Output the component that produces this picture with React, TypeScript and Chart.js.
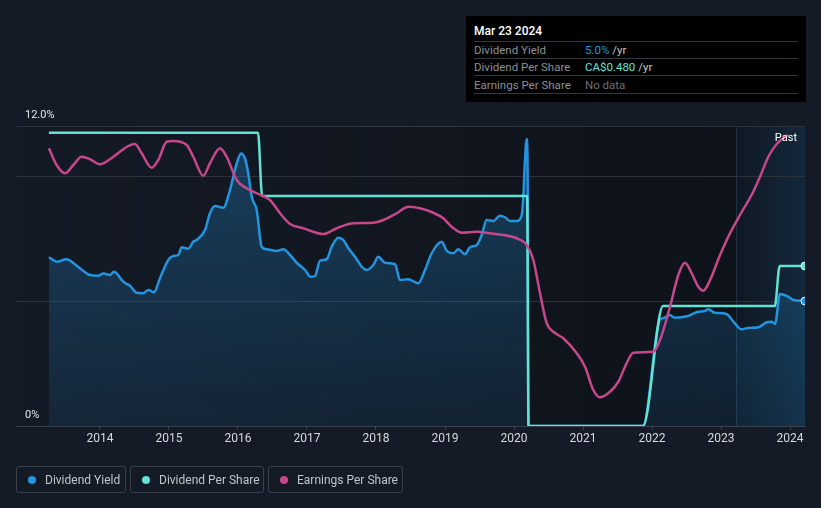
import React, { useEffect, useRef } from 'react';
import { Chart, registerables } from 'chart.js';

Chart.register(...registerables);

// ---------- data ----------
const xTickYears = [2014, 2015, 2016, 2017, 2018, 2019, 2020, 2021, 2022, 2023, 2024];
const yieldGridValues = [0, 5, 10, 12];
const yTopLabel = '12.0%';
const yBottomLabel = '0%';

const yieldYears = [
  2013.26, 2013.372, 2013.517, 2013.59, 2013.71, 2013.855, 2013.975, 2014.048, 2014.145, 2014.203,
  2014.338, 2014.435, 2014.532, 2014.628, 2014.7, 2014.783, 2014.87, 2014.99, 2015.062, 2015.135,
  2015.184, 2015.28, 2015.352, 2015.401, 2015.522, 2015.594, 2015.667, 2015.787, 2015.884, 2015.981,
  2016.043, 2016.101, 2016.149, 2016.199, 2016.271, 2016.343, 2016.416, 2016.561, 2016.657, 2016.754,
  2016.851, 2016.971, 2017.054, 2017.116, 2017.188, 2017.286, 2017.358, 2017.454, 2017.526, 2017.599,
  2017.696, 2017.793, 2017.865, 2017.961, 2018.033, 2018.13, 2018.275, 2018.348, 2018.468, 2018.613,
  2018.71, 2018.807, 2018.952, 2019.025, 2019.12, 2019.193, 2019.29, 2019.362, 2019.459, 2019.532,
  2019.604, 2019.7, 2019.797, 2019.87, 2019.942, 2020.039, 2020.112, 2020.135, 2020.159, 2020.184,
  2020.197, 2020.21, 2021.87, 2022.111, 2022.159, 2022.256, 2022.328, 2022.522, 2022.667, 2022.764,
  2022.812, 2022.909, 2023.077, 2023.199, 2023.294, 2023.391, 2023.541, 2023.662, 2023.734, 2023.783,
  2023.855, 2023.952, 2024.048, 2024.217,
];
const yieldValues = [
  6.75, 6.57, 6.67, 6.57, 6.31, 6.04, 6.01, 6.1, 6.04, 6.17,
  5.77, 5.61, 5.33, 5.31, 5.44, 5.35, 5.91, 6.64, 6.8, 6.84,
  7.15, 7.09, 7.37, 7.44, 7.84, 8.51, 8.8, 8.73, 9.44, 10.5,
  10.9, 10.7, 10.1, 9.17, 8.64, 7.17, 7.07, 7.0, 7.07, 6.84,
  6.53, 6.24, 5.97, 6.0, 6.61, 6.67, 7.17, 7.53, 7.44, 7.11,
  6.77, 6.37, 6.24, 6.44, 6.77, 6.53, 6.47, 5.84, 5.87, 5.71,
  6.24, 6.91, 7.37, 7.01, 6.91, 7.07, 6.87, 7.15, 7.24, 7.64,
  8.24, 8.2, 8.41, 8.35, 8.2, 8.2, 8.44, 9.17, 10.64, 11.48,
  10.24, 0, 0, 4.24, 4.31, 4.44, 4.33, 4.4, 4.57, 4.6,
  4.67, 4.53, 4.48, 4.11, 3.87, 3.92, 3.95, 4.15, 4.17, 4.08,
  5.28, 5.2, 5.04, 5.0,
];

const dpsYears = [2013.26, 2016.29, 2016.35, 2020.19, 2020.21, 2021.87, 2022.16, 2023.78, 2023.85, 2024.217];
const dpsValues = [0.88, 0.88, 0.69, 0.69, 0, 0, 0.36, 0.36, 0.48, 0.48];

const epsYears = [
  2013.26, 2013.372, 2013.493, 2013.613, 2013.735, 2013.855, 2014.0, 2014.145, 2014.29, 2014.41,
  2014.507, 2014.604, 2014.749, 2014.845, 2014.967, 2015.062, 2015.257, 2015.352, 2015.497, 2015.594,
  2015.739, 2015.836, 2015.981, 2016.125, 2016.271, 2016.464, 2016.609, 2016.754, 2016.946, 2017.236,
  2017.43, 2017.671, 2017.961, 2018.106, 2018.3, 2018.468, 2018.638, 2018.83, 2018.975, 2019.097,
  2019.242, 2019.459, 2019.652, 2019.845, 2020.039, 2020.184, 2020.28, 2020.377, 2020.474, 2020.57,
  2020.714, 2020.909, 2021.029, 2021.149, 2021.246, 2021.391, 2021.512, 2021.609, 2021.729, 2022.019,
  2022.116, 2022.261, 2022.381, 2022.478, 2022.575, 2022.671, 2022.743, 2022.841, 2022.986, 2023.13,
  2023.275, 2023.468, 2023.565, 2023.686, 2023.807, 2023.928, 2023.975,
];
const epsValues = [
  1.111, 1.044, 1.011, 1.044, 1.077, 1.067, 1.047, 1.067, 1.097, 1.12,
  1.128, 1.091, 1.033, 1.064, 1.137, 1.14, 1.124, 1.077, 1.001, 1.051,
  1.111, 1.077, 0.984, 0.951, 0.931, 0.904, 0.851, 0.808, 0.791, 0.768,
  0.791, 0.811, 0.813, 0.824, 0.851, 0.877, 0.871, 0.853, 0.831, 0.797,
  0.773, 0.777, 0.771, 0.764, 0.751, 0.724, 0.664, 0.531, 0.411, 0.377,
  0.351, 0.291, 0.237, 0.144, 0.115, 0.137, 0.177, 0.237, 0.293, 0.297,
  0.344, 0.477, 0.604, 0.653, 0.611, 0.557, 0.541, 0.584, 0.684, 0.771,
  0.844, 0.937, 0.997, 1.077, 1.128, 1.157, 1.164,
];

const X_MIN = 2012.783;
const X_MAX = 2024.217;
const PAST_START = 2023.217;

const BG = '#151b26';
const BLUE = '#2394df';
const TEAL = '#63e1d2';
const PINK = '#c6488b';
const FONT = "Roboto, 'Open Sans', sans-serif";

const toPoints = (xs: number[], ys: number[]) => xs.map((x, i) => ({ x, y: ys[i] }));
const lastOnly = (n: number, r: number) => Array.from({ length: n }, (_, i) => (i === n - 1 ? r : 0));

const decorPlugin = {
  id: 'decor',
  beforeDraw(chart: any) {
    const { ctx, chartArea: ca, scales } = chart;
    if (!ca) return;
    const px = scales.x.getPixelForValue(PAST_START);
    ctx.save();
    const g = ctx.createLinearGradient(ca.left, 0, px, 0);
    g.addColorStop(0, 'rgba(0,0,0,0)');
    g.addColorStop(1, 'rgba(0,0,0,0.3)');
    ctx.fillStyle = g;
    ctx.fillRect(ca.left, ca.top, px - ca.left, ca.bottom - ca.top);
    const g2 = ctx.createLinearGradient(px, 0, ca.right, 0);
    g2.addColorStop(0, '#0f1823');
    g2.addColorStop(1, '#13283b');
    ctx.fillStyle = g2;
    ctx.fillRect(px, ca.top, ca.right - px, ca.bottom - ca.top);
    ctx.strokeStyle = 'rgba(70,100,130,0.35)';
    ctx.lineWidth = 1;
    ctx.beginPath();
    ctx.moveTo(Math.round(px) + 0.5, ca.top);
    ctx.lineTo(Math.round(px) + 0.5, ca.bottom);
    ctx.stroke();
    ctx.restore();
  },
  afterDraw(chart: any) {
    const { ctx, chartArea: ca, scales } = chart;
    if (!ca) return;
    ctx.save();
    ctx.font = `11px ${FONT}`;
    ctx.fillStyle = '#e4e6e9';
    ctx.textBaseline = 'middle';
    ctx.textAlign = 'left';
    ctx.fillText(yTopLabel, ca.left + 9, scales.y.getPixelForValue(12) - 11);
    ctx.fillText(yBottomLabel, ca.left + 9, scales.y.getPixelForValue(0) - 11);
    ctx.textAlign = 'right';
    ctx.fillStyle = '#ffffff';
    ctx.fillText('Past', ca.right - 8, ca.top + 12);
    ctx.restore();
  },
};

export default function App() {
  const canvasRef = useRef<HTMLCanvasElement | null>(null);

  useEffect(() => {
    document.body.style.margin = '0';
    document.body.style.background = BG;
    const canvas = canvasRef.current;
    if (!canvas) return;
    const chart = new Chart(canvas, {
      type: 'line',
      data: {
        datasets: [
          {
            label: 'Earnings Per Share',
            data: toPoints(epsYears, epsValues),
            yAxisID: 'yEps',
            borderColor: PINK,
            borderWidth: 2.5,
            pointRadius: 0,
            cubicInterpolationMode: 'monotone',
            fill: false,
          },
          {
            label: 'Dividend Per Share',
            data: toPoints(dpsYears, dpsValues),
            yAxisID: 'yDps',
            borderColor: TEAL,
            borderWidth: 2.5,
            pointRadius: lastOnly(dpsYears.length, 4),
            pointBackgroundColor: TEAL,
            pointBorderColor: '#e8fffb',
            pointBorderWidth: 1,
            cubicInterpolationMode: 'monotone',
            fill: false,
          },
          {
            label: 'Dividend Yield',
            data: toPoints(yieldYears, yieldValues),
            yAxisID: 'y',
            borderColor: BLUE,
            borderWidth: 2.5,
            pointRadius: lastOnly(yieldYears.length, 4),
            pointBackgroundColor: BLUE,
            pointBorderColor: '#e8f4ff',
            pointBorderWidth: 1,
            cubicInterpolationMode: 'monotone',
            fill: 'origin',
            backgroundColor: (c: any) => {
              const ch = c.chart;
              const ca = ch.chartArea;
              if (!ca) return 'rgba(35,148,223,0.2)';
              const g = ch.ctx.createLinearGradient(0, ca.top, 0, ca.bottom);
              g.addColorStop(0, 'rgba(35,148,223,0.32)');
              g.addColorStop(1, 'rgba(35,148,223,0.10)');
              return g;
            },
          },
        ],
      },
      options: {
        animation: false,
        responsive: false,
        maintainAspectRatio: false,
        devicePixelRatio: 1,
        layout: { padding: { left: 16, right: 16, top: 126, bottom: 52 } },
        plugins: { legend: { display: false }, tooltip: { enabled: false } },
        elements: { line: { tension: 0.4 } },
        scales: {
          x: {
            type: 'linear',
            min: X_MIN,
            max: X_MAX,
            afterBuildTicks: (s: any) => {
              s.ticks = xTickYears.map((v) => ({ value: v }));
            },
            afterFit: (s: any) => {
              s.height = 30;
            },
            ticks: {
              color: '#d6d9dd',
              font: { size: 12, family: FONT },
              padding: 2,
              maxRotation: 0,
              autoSkip: false,
              callback: (v: any) => String(v),
            },
            grid: { display: true, drawOnChartArea: false, drawTicks: true, tickLength: 4, color: '#3b414b' },
            border: { display: true, color: '#3b414b' },
          },
          y: {
            position: 'left',
            min: 0,
            max: 12,
            afterBuildTicks: (s: any) => {
              s.ticks = yieldGridValues.map((v) => ({ value: v }));
            },
            afterFit: (s: any) => {
              s.width = 0;
            },
            ticks: { display: false },
            grid: {
              color: (c: any) => (c.tick && c.tick.value === 0 ? 'rgba(0,0,0,0)' : '#2d323b'),
              drawTicks: false,
              lineWidth: 1,
            },
            border: { display: false },
          },
          yDps: { display: false, min: 0, max: 0.9 },
          yEps: { display: false, min: 0, max: 1.2 },
        },
      },
      plugins: [decorPlugin],
    } as any);
    return () => chart.destroy();
  }, []);

  const rowLabel: React.CSSProperties = { color: '#8b9097', width: 111, flex: 'none' };
  const row: React.CSSProperties = {
    display: 'flex',
    alignItems: 'center',
    height: 17,
    boxSizing: 'border-box',
    borderBottom: '1px solid #34383e',
    fontSize: 11.5,
  };
  const legendItem: React.CSSProperties = {
    position: 'absolute',
    top: 466,
    height: 27,
    boxSizing: 'border-box',
    border: '1px solid #3a3f48',
    borderRadius: 3,
    display: 'flex',
    alignItems: 'center',
    color: '#c2c5ca',
    fontSize: 12,
    paddingLeft: 11,
  };
  const dot = (c: string): React.CSSProperties => ({
    width: 8,
    height: 8,
    borderRadius: '50%',
    background: c,
    marginRight: 9,
    flex: 'none',
  });

  return (
    <div
      style={{
        position: 'absolute',
        left: 0,
        top: 0,
        width: 821,
        height: 508,
        background: BG,
        fontFamily: FONT,
        overflow: 'hidden',
      }}
    >
      <canvas ref={canvasRef} width={821} height={508} style={{ position: 'absolute', left: 0, top: 0, width: 821, height: 508 }} />
      <div
        style={{
          position: 'absolute',
          left: 466,
          top: 16,
          width: 340,
          height: 86,
          background: '#000000',
          boxSizing: 'border-box',
          padding: '0 8px',
        }}
      >
        <div style={{ ...row, height: 26, color: '#ffffff', fontWeight: 500, fontSize: 12, paddingTop: 4 }}>Mar 23 2024</div>
        <div style={row}>
          <span style={rowLabel}>Dividend Yield</span>
          <span style={{ color: BLUE }}>5.0%</span>
          <span style={{ color: '#c3c6ca' }}>&nbsp;/yr</span>
        </div>
        <div style={row}>
          <span style={rowLabel}>Dividend Per Share</span>
          <span style={{ color: TEAL }}>CA$0.480</span>
          <span style={{ color: '#c3c6ca' }}>&nbsp;/yr</span>
        </div>
        <div style={{ ...row, height: 18 }}>
          <span style={rowLabel}>Earnings Per Share</span>
          <span style={{ color: '#6b7077' }}>No data</span>
        </div>
      </div>
      <div style={{ ...legendItem, left: 16, width: 110 }}>
        <span style={dot(BLUE)} />
        Dividend Yield
      </div>
      <div style={{ ...legendItem, left: 130, width: 134 }}>
        <span style={dot(TEAL)} />
        Dividend Per Share
      </div>
      <div style={{ ...legendItem, left: 268, width: 135 }}>
        <span style={dot(PINK)} />
        Earnings Per Share
      </div>
    </div>
  );
}
